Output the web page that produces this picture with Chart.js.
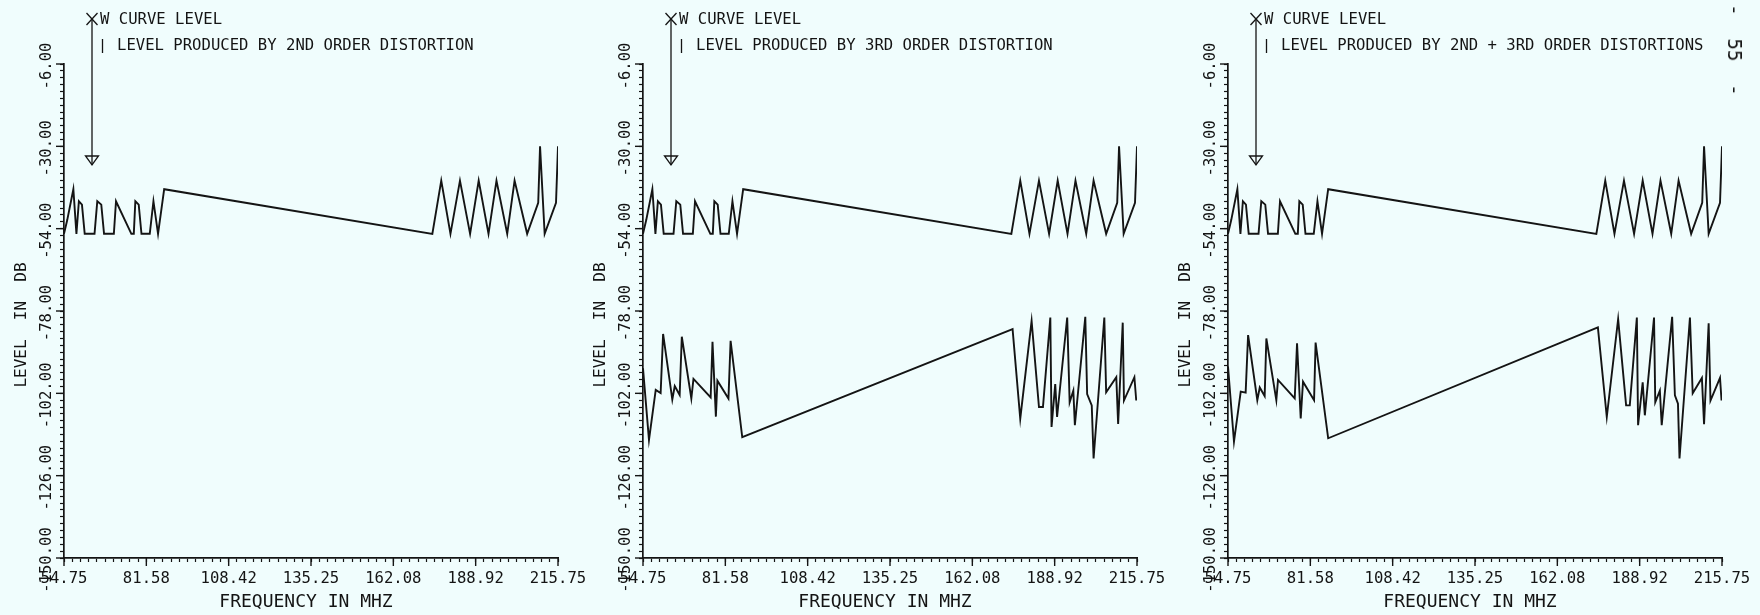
<!DOCTYPE html>
<html>
<head>
<meta charset="utf-8">
<script src="https://cdn.jsdelivr.net/npm/chart.js@4"></script>
<style>
  body { margin: 0; width: 1760px; height: 615px; overflow: hidden; position: relative; background: #f0fdfd; }
  canvas { position: absolute; top: 0; }
  #folio { position: absolute; left: 1735px; top: 50px; transform: translate(-50%, -50%) rotate(90deg);
           font: 19px "DejaVu Sans Mono"; color: #161616; white-space: pre; }
</style>
</head>
<body>
<canvas id="p1" width="590" height="615" style="left:0px"></canvas>
<canvas id="p2" width="590" height="615" style="left:579px"></canvas>
<canvas id="p3" width="590" height="615" style="left:1164px"></canvas>
<div id="folio">-  55  -</div>
<script>
// W curve level (same in all three plots)
const wFreq = [54.75, 55.8, 57.8, 58.8, 59.6, 60.6, 61.5, 64.7, 65.6, 66.9, 67.8, 71.0, 71.7, 76.7, 77.5, 78.0, 79.1, 80.0, 82.7, 83.9, 85.4, 87.4,
  174.8, 177.7, 180.7, 183.8, 187.1, 189.9, 193.1, 195.7, 199.2, 201.6, 205.7, 209.3, 209.9, 211.4, 215.1, 215.75];
const wLevel = [-55.5, -51.5, -42.5, -55.5, -46, -47, -55.5, -55.5, -46, -47, -55.5, -55.5, -46, -55.5, -55.5, -46, -47, -55.5, -55.5, -46, -55.5, -42.5,
  -55.5, -40, -55.5, -40, -55.5, -40, -55.5, -40, -55.5, -40, -55.5, -46.5, -30, -55.5, -46.5, -30];

// level produced by 3rd order distortion
const d3Freq = [54.75, 56.7, 58.9, 60.5, 61.3, 64.3, 65.1, 66.7, 67.4, 70.5, 71.2, 76.8, 77.4, 78.5, 79.0, 82.6, 83.3, 87.1,
  175.2, 177.7, 181.4, 183.8, 185.1, 187.5, 187.9, 189.1, 189.7, 193.0, 193.8, 195.0, 195.5, 198.9, 199.5, 201.0, 201.6,
  205.1, 205.7, 209.0, 209.6, 211.1, 211.5, 214.9, 215.5];
const d3Level = [-94.7, -115.6, -101, -101.9, -84.7, -103.8, -99.9, -102.5, -85.5, -103.5, -97.8, -103.2, -87, -108.8, -98.3, -103.5, -86.7, -114.8,
  -83.3, -109.4, -80.9, -106, -106, -79.9, -111.8, -99.3, -108.9, -79.9, -104.6, -101.2, -111.3, -79.7, -102.2, -105.5, -121,
  -79.9, -101.7, -97.3, -110.9, -81.4, -104.1, -97.3, -104.1];

// level produced by 2nd + 3rd order distortions
const d23Freq = [54.75, 56.7, 58.9, 60.5, 61.3, 64.3, 65.1, 66.7, 67.25, 70.5, 71.05, 76.5, 77.25, 78.45, 79.2, 82.8, 83.3, 87.4,
  175.3, 178.2, 181.9, 184.5, 185.7, 188.0, 188.4, 189.9, 190.6, 193.6, 194.0, 195.5, 196.1, 199.5, 200.4, 201.4, 201.9,
  205.3, 206.2, 209.2, 209.9, 211.4, 212.0, 215.1, 215.6];
const d23Level = [-94.2, -116.1, -101.5, -101.8, -85, -104, -100.3, -102.8, -86, -104, -98.1, -103.5, -87.4, -109.3, -98.6, -104, -87.2, -115.1,
  -82.8, -108.9, -80.4, -105.5, -105.5, -79.9, -111.3, -98.8, -108.4, -79.9, -104.6, -101.2, -111.3, -79.7, -102.6, -105, -121,
  -79.9, -102, -97.5, -111, -81.6, -104.1, -97.5, -104.1];

const xTickLabels = ["54.75", "81.58", "108.42", "135.25", "162.08", "188.92", "215.75"];
const yTickLabels = ["-150.00", "-126.00", "-102.00", "-78.00", "-54.00", "-30.00", "-6.00"];
const legendTitles = [
  "LEVEL PRODUCED BY 2ND ORDER DISTORTION",
  "LEVEL PRODUCED BY 3RD ORDER DISTORTION",
  "LEVEL PRODUCED BY 2ND + 3RD ORDER DISTORTIONS"
];

const ink = "#141414";
const mono = '"DejaVu Sans Mono", "Liberation Mono", monospace';
const xMin = 54.75, xMax = 215.75, yMin = -150, yMax = -6;
const xTicks = Array.from({ length: 61 }, (_, i) => xMin + i * (xMax - xMin) / 60);
const yTicks = Array.from({ length: 73 }, (_, i) => yMin + i * 2);
const yMajors = yTickLabels.map(Number);

function toPoints(fs, vs) {
  return fs.map((f, i) => ({ x: f, y: vs[i] }));
}

const decor = {
  id: "decor",
  afterDraw(chart, args, opts) {
    const ctx = chart.ctx;
    const xs = chart.scales.x, ys = chart.scales.y;
    const a = chart.chartArea;
    const seg = (x1, y1, x2, y2) => { ctx.beginPath(); ctx.moveTo(x1, y1); ctx.lineTo(x2, y2); ctx.stroke(); };
    ctx.save();
    ctx.strokeStyle = ink;
    ctx.fillStyle = ink;
    ctx.lineWidth = 1.4;

    // major ticks a bit longer than the minor ones
    xTicks.forEach((v, i) => { if (i % 10 === 0) { const px = xs.getPixelForValue(v); seg(px, a.bottom, px, a.bottom + 8); } });
    yMajors.forEach(v => { const py = ys.getPixelForValue(v); seg(a.left, py, a.left - 8, py); });

    // rotated y tick labels
    ctx.font = "15.6px " + mono;
    ctx.textAlign = "center";
    ctx.textBaseline = "middle";
    yTickLabels.forEach((t, i) => {
      ctx.save();
      ctx.translate(a.left - 17, ys.getPixelForValue(yMajors[i]) + 2);
      ctx.rotate(-Math.PI / 2);
      ctx.fillText(t, 0, 0);
      ctx.restore();
    });

    // axis titles
    ctx.save();
    ctx.translate(a.left - 42, (a.top + a.bottom) / 2 + 14);
    ctx.rotate(-Math.PI / 2);
    ctx.font = "16px " + mono;
    ctx.fillText("LEVEL  IN  DB", 0, 0);
    ctx.restore();
    ctx.font = "18px " + mono;
    ctx.fillText("FREQUENCY IN MHZ", (a.left + a.right) / 2 - 5, 602);

    // legend and arrow
    const ax = a.left + 28;
    ctx.lineWidth = 1.3;
    seg(ax - 5.5, 13, ax + 5.5, 25);
    seg(ax - 5.5, 25, ax + 5.5, 13);
    seg(ax, 19, ax, 165);
    ctx.beginPath();
    ctx.moveTo(ax - 6.5, 156);
    ctx.lineTo(ax + 6.5, 156);
    ctx.lineTo(ax, 165);
    ctx.closePath();
    ctx.stroke();
    seg(ax + 10.5, 39, ax + 10.5, 53);
    ctx.font = "15.6px " + mono;
    ctx.textAlign = "left";
    ctx.fillText("W CURVE LEVEL", ax + 8, 20);
    ctx.fillText(opts.title, ax + 25, 46);
    ctx.restore();
  }
};

function makePanel(id, title, series) {
  new Chart(document.getElementById(id), {
    type: "line",
    data: {
      datasets: series.map(s => ({
        data: toPoints(s[0], s[1]),
        borderColor: ink,
        borderWidth: 1.9,
        pointRadius: 0,
        tension: 0,
        fill: false
      }))
    },
    options: {
      responsive: false,
      animation: false,
      devicePixelRatio: 1,
      layout: { padding: { left: 0, right: 32, top: 64, bottom: 0 } },
      plugins: { legend: { display: false }, tooltip: { enabled: false }, decor: { title: title } },
      scales: {
        x: {
          type: "linear", min: xMin, max: xMax,
          afterBuildTicks: s => { s.ticks = xTicks.map(v => ({ value: v })); },
          afterFit: s => { s.height = 57; s.paddingLeft = 0; s.paddingRight = 0; },
          ticks: {
            autoSkip: false, maxRotation: 0, minRotation: 0, padding: 8, color: ink,
            font: { family: mono, size: 15.6 },
            callback: (v, i) => (i % 10 === 0 ? xTickLabels[i / 10] : "")
          },
          grid: { drawOnChartArea: false, drawTicks: true, tickLength: 4, tickColor: ink, tickWidth: 1.2 },
          border: { display: true, color: ink, width: 1.7 }
        },
        y: {
          type: "linear", min: yMin, max: yMax,
          afterBuildTicks: s => { s.ticks = yTicks.map(v => ({ value: v })); },
          afterFit: s => { s.width = 64; s.paddingTop = 0; s.paddingBottom = 0; },
          ticks: { autoSkip: false, callback: () => "" },
          grid: { drawOnChartArea: false, drawTicks: true, tickLength: 4, tickColor: ink, tickWidth: 1.2 },
          border: { display: true, color: ink, width: 1.7 }
        }
      }
    },
    plugins: [decor]
  });
}

makePanel("p1", legendTitles[0], [[wFreq, wLevel]]);
makePanel("p2", legendTitles[1], [[wFreq, wLevel], [d3Freq, d3Level]]);
makePanel("p3", legendTitles[2], [[wFreq, wLevel], [d23Freq, d23Level]]);
</script>
</body>
</html>
